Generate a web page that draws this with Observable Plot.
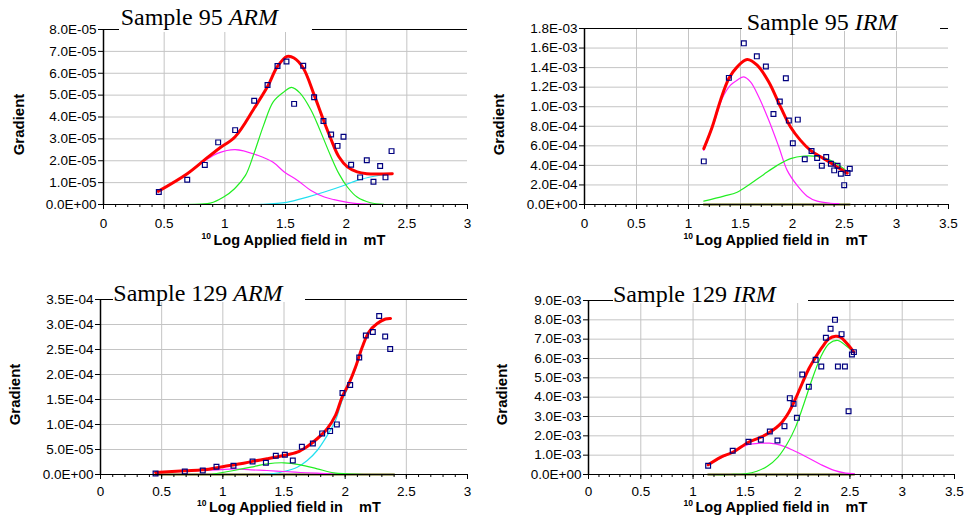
<!DOCTYPE html>
<html><head><meta charset="utf-8">
<script src="https://cdn.jsdelivr.net/npm/d3@7"></script>
<script src="https://cdn.jsdelivr.net/npm/@observablehq/plot@0.6"></script>
<style>
body{margin:0;background:#fff}
#wrap{position:relative;width:965px;height:519px;overflow:hidden;background:#fff}
#wrap svg{position:absolute;overflow:visible}
.box{position:absolute;background:#fff}
.ttl{position:absolute;font-family:"Liberation Serif","Times New Roman",serif;font-size:24px;line-height:24px;white-space:pre;color:#000}
</style></head>
<body><div id="wrap"></div>
<script>
// ---------- tick labels ----------
const xTicks3 = [0, 0.5, 1, 1.5, 2, 2.5, 3];
const xTicks35 = [0, 0.5, 1, 1.5, 2, 2.5, 3, 3.5];
const arm95YTicks = [0, 1e-5, 2e-5, 3e-5, 4e-5, 5e-5, 6e-5, 7e-5, 8e-5];
const irm95YTicks = [0, 2e-4, 4e-4, 6e-4, 8e-4, 1e-3, 1.2e-3, 1.4e-3, 1.6e-3, 1.8e-3];
const arm129YTicks = [0, 5e-5, 1e-4, 1.5e-4, 2e-4, 2.5e-4, 3e-4, 3.5e-4];
const irm129YTicks = [0, 1e-3, 2e-3, 3e-3, 4e-3, 5e-3, 6e-3, 7e-3, 8e-3, 9e-3];
const titles = [["Sample 95 ", "ARM"], ["Sample 95 ", "IRM"], ["Sample 129 ", "ARM"], ["Sample 129 ", "IRM"]];
const xLabel = "Log Applied field in\u00a0\u00a0\u00a0 mT";
const yLabel = "Gradient";

// ---------- Sample 95 ARM ----------
const arm95Points = [[0.456,5.7e-6],[0.69,1.13e-5],[0.835,1.81e-5],[0.945,2.84e-5],[1.085,3.40e-5],[1.242,4.74e-5],[1.352,5.46e-5],[1.434,6.33e-5],[1.508,6.54e-5],[1.571,4.60e-5],[1.646,6.34e-5],[1.736,4.90e-5],[1.813,3.82e-5],[1.876,3.20e-5],[1.929,2.68e-5],[1.978,3.10e-5],[2.041,1.82e-5],[2.115,1.24e-5],[2.170,2.02e-5],[2.225,1.04e-5],[2.280,1.76e-5],[2.324,1.24e-5],[2.374,2.44e-5]];
const arm95Total = [[0.45,6.0e-6],[0.69,1.41e-5],[0.835,2.05e-5],[0.95,2.55e-5],[1.085,3.10e-5],[1.242,4.40e-5],[1.352,5.39e-5],[1.434,6.31e-5],[1.514,6.77e-5],[1.57,6.70e-5],[1.646,6.24e-5],[1.736,5.01e-5],[1.813,3.86e-5],[1.876,2.97e-5],[1.94,2.18e-5],[2.01,1.72e-5],[2.09,1.49e-5],[2.17,1.41e-5],[2.38,1.41e-5]];
const arm95Green = [[0.45,0],[0.8,0.2e-6],[0.88,0.6e-6],[0.99,3.4e-6],[1.08,7.2e-6],[1.17,1.33e-5],[1.24,2.33e-5],[1.32,3.63e-5],[1.40,4.70e-5],[1.49,5.16e-5],[1.55,5.35e-5],[1.62,5.09e-5],[1.71,4.32e-5],[1.79,3.32e-5],[1.87,2.25e-5],[1.94,1.41e-5],[2.01,8.0e-6],[2.09,3.4e-6],[2.2,0.8e-6],[2.31,0.1e-6]];
const arm95Magenta = [[0.45,6.0e-6],[0.69,1.4e-5],[0.835,2.0e-5],[0.945,2.35e-5],[1.085,2.51e-5],[1.27,2.25e-5],[1.395,1.94e-5],[1.49,1.49e-5],[1.6,1.10e-5],[1.71,6.4e-6],[1.82,3.4e-6],[1.9,2.2e-6],[2.0,1.1e-6],[2.09,0.4e-6],[2.31,0]];
const arm95Cyan = [[1.25,0],[1.3,0.05e-6],[1.51,1.0e-6],[1.68,3.4e-6],[1.82,5.7e-6],[1.98,8.7e-6],[2.09,1.10e-5],[2.23,1.29e-5],[2.36,1.41e-5],[2.38,1.42e-5]];

// ---------- Sample 95 IRM ----------
const irm95Points = [[1.147,4.41e-4],[1.388,1.295e-3],[1.532,1.648e-3],[1.657,1.515e-3],[1.744,1.412e-3],[1.817,9.26e-4],[1.878,1.053e-3],[1.936,1.292e-3],[1.965,8.58e-4],[2.003,6.26e-4],[2.051,8.68e-4],[2.118,4.62e-4],[2.183,5.47e-4],[2.237,4.75e-4],[2.282,3.97e-4],[2.324,4.85e-4],[2.369,4.17e-4],[2.401,3.49e-4],[2.433,3.97e-4],[2.465,3.15e-4],[2.497,1.98e-4],[2.529,3.21e-4],[2.551,3.66e-4]];
const irm95Total = [[1.147,5.71e-4],[1.228,7.93e-4],[1.308,1.067e-3],[1.388,1.289e-3],[1.468,1.408e-3],[1.564,1.484e-3],[1.66,1.426e-3],[1.772,1.254e-3],[1.885,9.98e-4],[1.981,7.93e-4],[2.077,6.56e-4],[2.173,5.54e-4],[2.301,4.69e-4],[2.43,3.83e-4],[2.526,3.21e-4]];
const irm95Magenta = [[1.147,5.54e-4],[1.244,8.28e-4],[1.324,1.084e-3],[1.404,1.22e-3],[1.468,1.272e-3],[1.532,1.306e-3],[1.596,1.254e-3],[1.676,1.1e-3],[1.772,8.62e-4],[1.869,5.88e-4],[1.949,3.49e-4],[2.045,1.95e-4],[2.141,8.5e-5],[2.237,3.4e-5],[2.365,1.3e-5],[2.445,1.0e-5]];
const irm95Green = [[1.147,3.4e-5],[1.34,8.5e-5],[1.468,1.26e-4],[1.596,2.12e-4],[1.724,3.08e-4],[1.853,4.0e-4],[1.981,4.69e-4],[2.109,4.96e-4],[2.237,4.92e-4],[2.365,4.51e-4],[2.493,3.66e-4],[2.526,3.3e-4]];
const irm95Olive = [[1.147,0],[2.55,0]];

// ---------- Sample 129 ARM ----------
const arm129Points = [[0.45,2e-6],[0.689,6e-6],[0.836,8e-6],[0.948,1.54e-5],[1.087,1.74e-5],[1.243,2.6e-5],[1.352,2.34e-5],[1.433,3.74e-5],[1.507,3.94e-5],[1.572,2.8e-5],[1.646,5.54e-5],[1.736,6.21e-5],[1.812,8.22e-5],[1.877,8.68e-5],[1.932,1.002e-4],[1.978,1.63e-4],[2.041,1.79e-4],[2.115,2.34e-4],[2.169,2.78e-4],[2.226,2.85e-4],[2.278,3.17e-4],[2.327,2.76e-4],[2.368,2.51e-4]];
const arm129Total = [[0.45,4e-6],[0.689,7.3e-6],[0.836,9.3e-6],[1.008,1.6e-5],[1.144,2.13e-5],[1.253,2.67e-5],[1.362,3.14e-5],[1.499,3.8e-5],[1.608,4.47e-5],[1.69,5.61e-5],[1.771,7.15e-5],[1.853,9.15e-5],[1.921,1.182e-4],[1.975,1.549e-4],[2.03,1.816e-4],[2.085,2.15e-4],[2.14,2.55e-4],[2.194,2.85e-4],[2.262,3.02e-4],[2.33,3.11e-4],[2.371,3.12e-4]];
const arm129Cyan = [[1.3,0],[1.417,2e-6],[1.499,6e-6],[1.608,1.46e-5],[1.69,2.8e-5],[1.771,4.8e-5],[1.853,7.8e-5],[1.921,1.08e-4],[1.975,1.48e-4],[2.03,1.78e-4],[2.085,2.12e-4],[2.14,2.53e-4],[2.194,2.84e-4],[2.262,3.01e-4],[2.33,3.10e-4],[2.371,3.11e-4]];
const arm129Green = [[0.9,0],[1.09,8e-6],[1.23,1.46e-5],[1.362,2.13e-5],[1.499,2.34e-5],[1.635,1.94e-5],[1.771,1.14e-5],[1.907,3.4e-6],[2.016,1.4e-6],[2.15,0]];
const arm129Magenta = [[0.45,4e-6],[0.69,6.5e-6],[0.836,8.5e-6],[0.96,9.3e-6],[1.09,1.14e-5],[1.23,9.3e-6],[1.36,8e-6],[1.5,6e-6],[1.635,4e-6],[1.77,2.6e-6],[1.96,0.5e-6],[2.1,0]];
const arm129Olive = [[0.45,0],[2.4,0]];

// ---------- Sample 129 IRM ----------
const irm129Points = [[1.144,4.5e-4],[1.379,1.226e-3],[1.530,1.69e-3],[1.648,1.795e-3],[1.734,2.22e-3],[1.807,1.76e-3],[1.874,2.5e-3],[1.925,3.95e-3],[1.961,3.66e-3],[1.993,2.93e-3],[2.044,5.17e-3],[2.107,4.54e-3],[2.172,5.93e-3],[2.226,5.59e-3],[2.27,7.07e-3],[2.315,7.54e-3],[2.357,8.0e-3],[2.385,5.59e-3],[2.42,7.26e-3],[2.452,5.59e-3],[2.487,3.27e-3],[2.519,6.21e-3],[2.538,6.33e-3]];
const irm129Total = [[1.144,5.0e-4],[1.262,8.9e-4],[1.379,1.15e-3],[1.53,1.67e-3],[1.648,1.93e-3],[1.734,2.19e-3],[1.836,2.62e-3],[1.916,3.22e-3],[1.98,3.92e-3],[2.044,4.72e-3],[2.107,5.47e-3],[2.172,6.07e-3],[2.235,6.59e-3],[2.3,7.02e-3],[2.363,7.15e-3],[2.41,7.1e-3],[2.47,6.79e-3],[2.538,6.33e-3]];
const irm129Green = [[1.144,0],[1.36,0],[1.5,4e-5],[1.61,1.7e-4],[1.71,4.3e-4],[1.81,8.9e-4],[1.9,1.59e-3],[1.98,2.45e-3],[2.06,3.66e-3],[2.14,4.95e-3],[2.22,6.07e-3],[2.3,6.76e-3],[2.385,6.93e-3],[2.46,6.67e-3],[2.53,6.36e-3]];
const irm129Magenta = [[1.144,5.0e-4],[1.262,8.5e-4],[1.38,1.15e-3],[1.53,1.55e-3],[1.648,1.62e-3],[1.73,1.62e-3],[1.836,1.52e-3],[1.96,1.24e-3],[2.09,8.9e-4],[2.22,5.2e-4],[2.35,2.1e-4],[2.46,7e-5],[2.54,5e-5]];
const irm129Olive = [[1.144,0],[2.54,0]];

// ---------- helpers ----------
function fmtE(v) {
  if (Math.abs(v) < 1e-15) return "0.0E+00";
  const [m, e] = v.toExponential(1).split("e");
  const n = +e;
  return m + "E" + (n < 0 ? "-" : "+") + String(Math.abs(n)).padStart(2, "0");
}
const round = v => Math.round(v * 1e6) / 1e6;
const FONT = '"Liberation Sans", Arial, sans-serif';

const panels = [
  {left:0, top:0, width:480, height:260, ml:103, mr:13, mt:29, mb:56, xTicks:xTicks3, yTicks:arm95YTicks,
   points:arm95Points, red:arm95Total, green:arm95Green, magenta:arm95Magenta, cyan:arm95Cyan, olive:null,
   tickDy:14, labelDx:-72, labelDy:40, gradDx:-84, gradDy:7.5, title:titles[0], box:[119,0,193,32], txt:[120.7,25]},
  {left:480, top:0, width:485, height:260, ml:104, mr:17, mt:28, mb:56, xTicks:xTicks35, yTicks:irm95YTicks,
   points:irm95Points, red:irm95Total, green:irm95Green, magenta:irm95Magenta, cyan:null, olive:irm95Olive,
   tickDy:14, labelDx:-71, labelDy:40, gradDx:-85, gradDy:8, title:titles[1], box:[742,0,198,31], txt:[746.7,30]},
  {left:0, top:260, width:480, height:259, ml:100, mr:13, mt:39, mb:45, xTicks:xTicks3, yTicks:arm129YTicks,
   points:arm129Points, red:arm129Total, green:arm129Green, magenta:arm129Magenta, cyan:arm129Cyan, olive:arm129Olive,
   tickDy:12, labelDx:-75, labelDy:37.5, gradDx:-85, gradDy:7.5, title:titles[2], box:[113,270,192,32], txt:[113.3,300.7]},
  {left:480, top:260, width:485, height:259, ml:108, mr:11, mt:40, mb:45, xTicks:xTicks35, yTicks:irm129YTicks,
   points:irm129Points, red:irm129Total, green:irm129Green, magenta:irm129Magenta, cyan:null, olive:irm129Olive,
   tickDy:12, labelDx:-76, labelDy:37.5, gradDx:-86, gradDy:7, title:titles[3], box:[613,270,195,33], txt:[613,302.3]}
];

const wrap = document.getElementById("wrap");
const X = d => d[0], Y = d => d[1];

for (const p of panels) {
  const xMax = p.xTicks[p.xTicks.length - 1];
  const yMax = p.yTicks[p.yTicks.length - 1];
  const minor = d3.range(0, Math.round(xMax * 10) + 1).map(i => round(i / 10));
  const gridX = p.xTicks.filter(v => v > 0 && v < xMax);
  const gridY = p.yTicks.filter(v => v > 0 && v < yMax);
  const comp = (data, stroke, w) => data ? Plot.line(data, {x: X, y: Y, stroke, strokeWidth: w, curve: "catmull-rom"}) : null;
  const svg = Plot.plot({
    width: p.width, height: p.height,
    marginLeft: p.ml, marginRight: p.mr, marginTop: p.mt, marginBottom: p.mb,
    x: {domain: [0, xMax]},
    y: {domain: [0, yMax]},
    style: {fontFamily: FONT, color: "#000", background: "transparent", overflow: "visible"},
    marks: [
      Plot.gridX(gridX, {stroke: "#c4c4c4", strokeOpacity: 1, strokeWidth: 1}),
      Plot.gridY(gridY, {stroke: "#c4c4c4", strokeOpacity: 1, strokeWidth: 1}),
      Plot.ruleY([yMax], {stroke: "#000", strokeWidth: 1.2}),
      comp(p.olive, "#5c5c00", 2.2),
      comp(p.cyan, "#22e0f0", 1.2),
      comp(p.magenta, "#ff22ff", 1.2),
      comp(p.green, "#22ee22", 1.2),
      comp(p.red, "#ff0000", 3),
      Plot.dot(p.points, {x: X, y: Y, symbol: "square", r: 2.7, stroke: "#00007f", strokeWidth: 1.2, fill: "none"}),
      Plot.ruleY([0], {stroke: "#000", strokeWidth: 1.2}),
      Plot.ruleX([0], {stroke: "#000", strokeWidth: 1.5}),
      Plot.axisX({ticks: minor, tickSize: 3, tickFormat: () => "", label: null, stroke: "#000"}),
      Plot.axisX({ticks: p.xTicks, tickSize: 5, tickFormat: () => "", label: null, stroke: "#000"}),
      Plot.axisY({ticks: p.yTicks, tickSize: 5, tickFormat: () => "", label: null, stroke: "#000"}),
      // tick labels
      Plot.text(p.xTicks, {x: d => d, frameAnchor: "bottom", lineAnchor: "top", dy: p.tickDy, text: d => String(d), fontSize: 13.5, fill: "#000"}),
      Plot.text(p.yTicks, {y: d => d, frameAnchor: "left", textAnchor: "end", dx: -7, text: fmtE, fontSize: 13.5, fill: "#000"}),
      // axis titles
      Plot.text([yLabel], {frameAnchor: "left", rotate: -90, dx: p.gradDx, dy: p.gradDy, fontWeight: "bold", fontSize: 15, textAnchor: "middle", fill: "#000"}),
      Plot.text([xLabel], {frameAnchor: "bottom", textAnchor: "start", dx: p.labelDx, dy: p.labelDy, fontWeight: "bold", fontSize: 14.5, fill: "#000"}),
      Plot.text(["10"], {frameAnchor: "bottom", textAnchor: "end", dx: p.labelDx - 2.5, dy: p.labelDy - 6, fontWeight: "bold", fontSize: 8.5, fill: "#000"})
    ].filter(Boolean)
  });
  svg.style.left = p.left + "px";
  svg.style.top = p.top + "px";
  wrap.appendChild(svg);

  const box = document.createElement("div");
  box.className = "box";
  box.style.left = p.box[0] + "px"; box.style.top = p.box[1] + "px";
  box.style.width = p.box[2] + "px"; box.style.height = p.box[3] + "px";
  wrap.appendChild(box);

  const t = document.createElement("div");
  t.className = "ttl";
  t.style.left = p.txt[0] + "px";
  t.style.top = (p.txt[1] - 20.1) + "px";
  t.appendChild(document.createTextNode(p.title[0]));
  const it = document.createElement("i");
  it.textContent = p.title[1];
  t.appendChild(it);
  wrap.appendChild(t);
}
</script>
</body></html>
